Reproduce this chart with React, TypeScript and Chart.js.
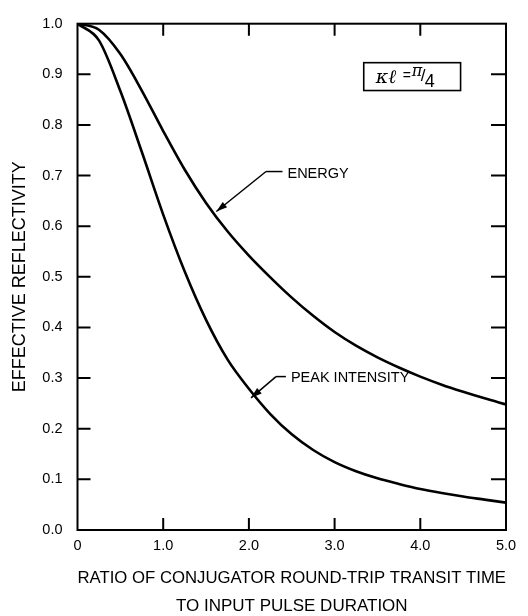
import React, { useEffect, useRef } from 'react';
import { Chart, registerables } from 'chart.js';

Chart.register(...registerables);

// ---- data ----
const xValues = [0, 0.25, 0.5, 0.75, 1.0, 1.25, 1.5, 1.75, 2.0, 2.25, 2.5, 2.75, 3.0, 3.25, 3.5, 3.75, 4.0, 4.25, 4.5, 4.75, 5.0];
const energy = [1.0, 0.988, 0.94, 0.868, 0.788, 0.712, 0.646, 0.59, 0.542, 0.499, 0.459, 0.423, 0.391, 0.364, 0.341, 0.321, 0.303, 0.287, 0.273, 0.26, 0.248];
const peakIntensity = [1.0, 0.967, 0.867, 0.747, 0.623, 0.511, 0.415, 0.337, 0.279, 0.229, 0.189, 0.158, 0.134, 0.116, 0.102, 0.091, 0.081, 0.073, 0.066, 0.06, 0.054];

const xTicks = [0, 1, 2, 3, 4, 5];
const xTickLabels = ['0', '1.0', '2.0', '3.0', '4.0', '5.0'];
const yTicks = [0, 0.1, 0.2, 0.3, 0.4, 0.5, 0.6, 0.7, 0.8, 0.9, 1.0];
const yTickLabels = ['0.0', '0.1', '0.2', '0.3', '0.4', '0.5', '0.6', '0.7', '0.8', '0.9', '1.0'];

const xTitle = ['RATIO OF CONJUGATOR ROUND-TRIP TRANSIT TIME', 'TO INPUT PULSE DURATION'];
const yTitle = 'EFFECTIVE REFLECTIVITY';

// annotation anchors in data units
const energyLabel = { text: 'ENERGY', tip: [1.62, 0.629], elbow: [2.2, 0.708], textAt: [2.45, 0.704] };
const peakLabel = { text: 'PEAK INTENSITY', tip: [2.025, 0.261], elbow: [2.316, 0.303], textAt: [2.49, 0.301] };
const paramBox = { x0: 3.34, x1: 4.47, y0: 0.923, y1: 0.868 };

const FONT = '"Liberation Sans", Arial, sans-serif';

function drawArrow(ctx: CanvasRenderingContext2D, fx: number, fy: number, tx: number, ty: number) {
  ctx.beginPath();
  ctx.moveTo(fx, fy);
  ctx.lineTo(tx, ty);
  ctx.stroke();
  const ang = Math.atan2(ty - fy, tx - fx);
  const len = 11;
  const half = 3.5;
  const bx = tx - Math.cos(ang) * len;
  const by = ty - Math.sin(ang) * len;
  ctx.beginPath();
  ctx.moveTo(tx, ty);
  ctx.lineTo(bx + Math.sin(ang) * half, by - Math.cos(ang) * half);
  ctx.lineTo(bx - Math.sin(ang) * half, by + Math.cos(ang) * half);
  ctx.closePath();
  ctx.fill();
}

const framePlugin = {
  id: 'frameAndNotes',
  afterDatasetsDraw(chart: any) {
    const { ctx, chartArea: a, scales } = chart;
    const x = scales.x;
    const y = scales.y;
    ctx.save();
    ctx.strokeStyle = '#000';
    ctx.fillStyle = '#000';
    ctx.lineWidth = 2;
    ctx.strokeRect(a.left, a.top, a.right - a.left, a.bottom - a.top);

    ctx.beginPath();
    xTicks.slice(1, -1).forEach((v) => {
      const px = x.getPixelForValue(v);
      ctx.moveTo(px, a.top);
      ctx.lineTo(px, a.top + 12);
      ctx.moveTo(px, a.bottom);
      ctx.lineTo(px, a.bottom - 12);
    });
    yTicks.slice(1, -1).forEach((v) => {
      const py = y.getPixelForValue(v);
      ctx.moveTo(a.left, py);
      ctx.lineTo(a.left + 13, py);
      ctx.moveTo(a.right, py);
      ctx.lineTo(a.right - 15, py);
    });
    ctx.stroke();

    // leader labels
    ctx.lineWidth = 1.5;
    [energyLabel, peakLabel].forEach((lab) => {
      const tx = x.getPixelForValue(lab.tip[0]);
      const ty = y.getPixelForValue(lab.tip[1]);
      const ex = x.getPixelForValue(lab.elbow[0]);
      const ey = y.getPixelForValue(lab.elbow[1]);
      const sx = x.getPixelForValue(lab.textAt[0]);
      const sy = y.getPixelForValue(lab.textAt[1]);
      ctx.beginPath();
      ctx.moveTo(sx - 5, ey);
      ctx.lineTo(ex, ey);
      ctx.stroke();
      drawArrow(ctx, ex, ey, tx, ty);
      ctx.font = `14.5px ${FONT}`;
      ctx.textAlign = 'left';
      ctx.textBaseline = 'middle';
      ctx.fillText(lab.text, sx, sy);
    });

    // parameter box
    const bx0 = x.getPixelForValue(paramBox.x0);
    const bx1 = x.getPixelForValue(paramBox.x1);
    const by0 = y.getPixelForValue(paramBox.y0);
    const by1 = y.getPixelForValue(paramBox.y1);
    ctx.lineWidth = 1.6;
    ctx.strokeRect(bx0, by0, bx1 - bx0, by1 - by0);
    ctx.textBaseline = 'alphabetic';
    ctx.textAlign = 'left';
    const base = by0 + (by1 - by0) * 0.74;
    ctx.font = `italic 19px "DejaVu Serif", serif`;
    ctx.fillText('\u03BA\u2113', bx0 + 12, base);
    ctx.font = `14px ${FONT}`;
    ctx.fillText('=', bx0 + 39, base - 3);
    ctx.font = `italic 16px "DejaVu Serif", serif`;
    ctx.fillText('\u03C0', bx0 + 48, base - 7);
    ctx.font = `17px ${FONT}`;
    ctx.fillText('/', bx0 + 57, base - 2);
    ctx.font = `18px ${FONT}`;
    ctx.fillText('4', bx0 + 61, base + 4);
    ctx.restore();
  },
};

export default function App() {
  const ref = useRef<HTMLCanvasElement>(null);
  useEffect(() => {
    document.body.style.margin = '0';
    const canvas = ref.current!;
    const chart = new Chart(canvas, {
      type: 'line',
      data: {
        datasets: [
          {
            label: 'Energy',
            data: xValues.map((v, i) => ({ x: v, y: energy[i] })),
            borderColor: '#000',
            borderWidth: 2.6,
            pointRadius: 0,
            cubicInterpolationMode: 'monotone',
            fill: false,
          },
          {
            label: 'Peak intensity',
            data: xValues.map((v, i) => ({ x: v, y: peakIntensity[i] })),
            borderColor: '#000',
            borderWidth: 2.6,
            pointRadius: 0,
            cubicInterpolationMode: 'monotone',
            fill: false,
          },
        ],
      },
      options: {
        responsive: false,
        animation: false,
        layout: { padding: { top: 13.5, right: 22, bottom: 0, left: 0 } },
        plugins: { legend: { display: false }, tooltip: { enabled: false } },
        scales: {
          x: {
            type: 'linear',
            min: 0,
            max: 5,
            afterBuildTicks: (s: any) => {
              s.ticks = xTicks.map((v) => ({ value: v }));
            },
            afterFit: (s: any) => {
              s.height = 86;
            },
            grid: { display: false, drawTicks: false },
            border: { display: false },
            ticks: {
              color: '#000',
              padding: 7,
              maxRotation: 0,
              font: { family: FONT, size: 14.5 },
              callback: (v: any) => {
                const i = xTicks.indexOf(Number(v));
                return i >= 0 ? xTickLabels[i] : '';
              },
            },
            title: {
              display: true,
              text: xTitle,
              color: '#000',
              font: { family: FONT, size: 17, lineHeight: '28px' },
              padding: { top: 0, bottom: -4 },
            },
          },
          y: {
            type: 'linear',
            min: 0,
            max: 1,
            afterBuildTicks: (s: any) => {
              s.ticks = yTicks.map((v) => ({ value: v }));
            },
            afterFit: (s: any) => {
              s.width = 77.5;
            },
            grid: { display: false, drawTicks: false },
            border: { display: false },
            ticks: {
              color: '#000',
              padding: 15,
              font: { family: FONT, size: 14.5 },
              callback: (v: any) => {
                const i = yTicks.findIndex((t) => Math.abs(t - Number(v)) < 1e-6);
                return i >= 0 ? yTickLabels[i] : '';
              },
            },
            title: {
              display: true,
              text: yTitle,
              color: '#000',
              font: { family: FONT, size: 18 },
              padding: { top: 9, bottom: 0 },
            },
          },
        },
      },
      plugins: [framePlugin],
    } as any);
    return () => chart.destroy();
  }, []);
  return (
    <div style={{ position: 'absolute', left: 0, top: 0, width: 528, height: 616 }}>
      <canvas ref={ref} width={528} height={616} style={{ display: 'block' }} />
    </div>
  );
}
